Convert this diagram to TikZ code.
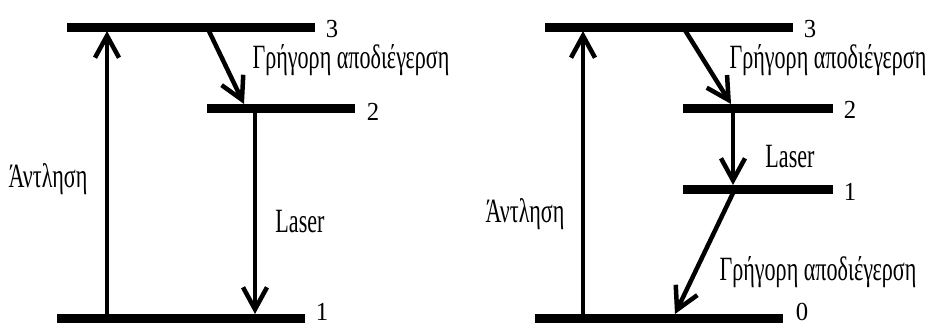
\documentclass[tikz,border=0pt]{standalone}
\usepackage{fontspec}
\setmainfont{Liberation Serif}
\newfontfamily\lblfont[FakeStretch=0.65]{Liberation Serif}
\newfontfamily\digfont[FakeStretch=0.95]{Liberation Serif}
\usetikzlibrary{arrows.meta}
\begin{document}
\begin{tikzpicture}[x=1pt,y=-1pt,
  level/.style={line width=9pt},
  trans/.style={line width=4.5pt,-{Straight Barb[length=22pt,width=24pt]}},
  lbl/.style={anchor=base,inner sep=0pt,font=\lblfont\fontsize{34}{34}\selectfont},
  dig/.style={anchor=base,inner sep=0pt,font=\digfont\fontsize{26}{26}\selectfont}]
\useasboundingbox (0,0) rectangle (925,327);
% ---------- left diagram ----------
\coordinate (L3a) at (67,27);  \coordinate (L3b) at (315,27);
\coordinate (L2a) at (207,108); \coordinate (L2b) at (355,108);
\coordinate (L1a) at (57,318); \coordinate (L1b) at (305,318);
\draw[level] (L3a) -- (L3b);
\draw[level] (L2a) -- (L2b);
\draw[level] (L1a) -- (L1b);
\node[dig] (l3) at (332,37) {3};
\node[dig] (l2) at (373,120) {2};
\node[dig] (l1) at (322,320) {1};
\coordinate (Lps) at (107,318); \coordinate (Lpe) at (107,31);
\coordinate (Lfs) at (207,27);  \coordinate (Lfe) at (244,104);
\coordinate (Lls) at (255,112); \coordinate (Lle) at (255,314);
\draw[trans] (Lps) -- (Lpe);
\draw[trans] (Lfs) -- (Lfe);
\draw[trans] (Lls) -- (Lle);
\node[lbl] (lpump) at (48,187) {Άντληση};
\node[lbl] (llaser) at (300,232) {Laser};
\node[lbl] (lfast) at (351,68) {Γρήγορη αποδιέγερση};
% ---------- right diagram ----------
\coordinate (R3a) at (545,27);  \coordinate (R3b) at (793,27);
\coordinate (R2a) at (683,108); \coordinate (R2b) at (833,108);
\coordinate (R1a) at (683,189); \coordinate (R1b) at (833,189);
\coordinate (R0a) at (535,318); \coordinate (R0b) at (783,318);
\draw[level] (R3a) -- (R3b);
\draw[level] (R2a) -- (R2b);
\draw[level] (R1a) -- (R1b);
\draw[level] (R0a) -- (R0b);
\node[dig] (r3) at (810,37) {3};
\node[dig] (r2) at (850,118) {2};
\node[dig] (r1) at (850,200) {1};
\node[dig] (r0) at (802,320) {0};
\coordinate (Rps) at (583,318); \coordinate (Rpe) at (583,31);
\coordinate (Rfs) at (683,27);  \coordinate (Rfe) at (731,104);
\coordinate (Rls) at (733,112); \coordinate (Rle) at (733,185);
\coordinate (Rds) at (733,193); \coordinate (Rde) at (675,314);
\draw[trans] (Rps) -- (Rpe);
\draw[trans] (Rfs) -- (Rfe);
\draw[trans] (Rls) -- (Rle);
\draw[trans] (Rds) -- (Rde);
\node[lbl] (rpump) at (525,222) {Άντληση};
\node[lbl] (rlaser) at (790,167) {Laser};
\node[lbl] (rfast1) at (828,68) {Γρήγορη αποδιέγερση};
\node[lbl] (rfast2) at (818,280) {Γρήγορη αποδιέγερση};
\end{tikzpicture}
\end{document}
